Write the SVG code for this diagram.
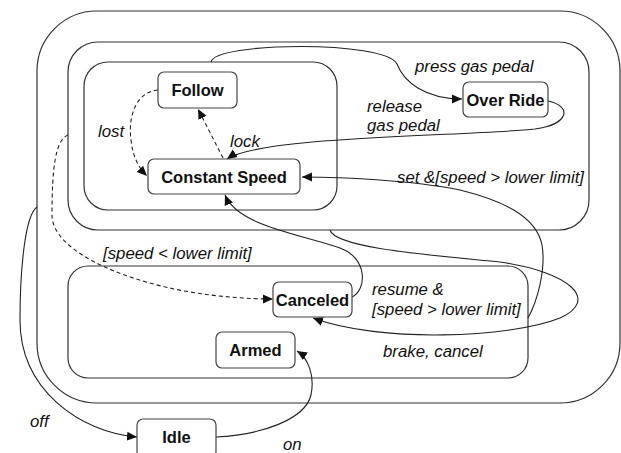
<svg xmlns="http://www.w3.org/2000/svg" width="621" height="453" viewBox="0 0 621 453">
<defs>
<marker id="ah" viewBox="0 0 10 10" refX="10" refY="5" markerWidth="10" markerHeight="10" markerUnits="userSpaceOnUse" orient="auto">
<path d="M0,0.5 L10,5 L0,9.5 z" fill="#111"/>
</marker>
<style>
.reg{fill:none;stroke:#333;stroke-width:1.2}
.st{fill:#fff;stroke:#444;stroke-width:1.2}
.nl{font-family:"Liberation Sans",Arial,sans-serif;font-weight:bold;font-size:16.5px;fill:#111;text-anchor:middle}
.lb{font-family:"Liberation Sans",Arial,sans-serif;font-style:italic;font-size:16.8px;fill:#111}
.e{fill:none;stroke:#222;stroke-width:1.1;marker-end:url(#ah)}
.d{stroke-dasharray:4,3}
</style>
</defs>
<rect width="621" height="453" fill="#fff"/>
<g id="regions">
<rect id="cruise" class="reg" x="37" y="11" width="583" height="392" rx="60"/>
<rect id="active" class="reg" x="68" y="42" width="521" height="188" rx="30"/>
<rect id="speedctl" class="reg" x="84" y="62" width="253" height="148" rx="24"/>
<rect id="inactive" class="reg" x="68" y="266" width="460" height="112" rx="20"/>
</g>
<g id="connectors">
<path class="e" d="M211,62 C214,42 385,40 397,64 C404,82 425,99 462,99"/>
<path class="e" d="M548,101 C572,106 570,124 535,129 C470,136 260,136 227,159"/>
<path class="e d" d="M223,158 L198,109"/>
<path class="e d" d="M158,90 C135,92 128,118 131,140 C133,158 139,168 147,176"/>
<path class="e d" d="M68,135 C55,140 52,170 52,215 C52,250 120,280 190,292 C220,297 250,299 273,299"/>
<path class="e" d="M528,318 C538,300 546,268 542,245 C536,215 500,200 460,190 C410,180 340,177 302,177"/>
<path class="e" d="M352,297 C367,290 368,258 340,248 C300,234 238,226 225,195"/>
<path class="e" d="M330,230 C335,248 430,255 500,262 C570,272 600,300 560,318 C510,338 380,343 313,318"/>
<path class="e" d="M37,207 C25,215 20,270 20,320 C20,390 80,432 137,437"/>
<path class="e" d="M216,437 C260,435 305,420 311,395 C315,375 308,358 297,351"/>
</g>
<g id="Follow"><rect class="st" x="158" y="72" width="79" height="36" rx="6"/><text class="nl" x="197.5" y="96">Follow</text></g>
<g id="ConstantSpeed"><rect class="st" x="148" y="159" width="152" height="35" rx="6"/><text class="nl" x="224" y="182.5">Constant Speed</text></g>
<g id="OverRide"><rect class="st" x="463" y="82" width="85" height="35" rx="6"/><text class="nl" x="505.5" y="105.5">Over Ride</text></g>
<g id="Canceled"><rect class="st" x="273" y="282" width="79" height="35" rx="6"/><text class="nl" x="312.5" y="305.5">Canceled</text></g>
<g id="Armed"><rect class="st" x="216" y="332" width="79" height="36" rx="6"/><text class="nl" x="255.5" y="356">Armed</text></g>
<g id="Idle"><rect class="st" x="137" y="419" width="79" height="38" rx="6"/><text class="nl" x="176.5" y="443">Idle</text></g>
<g id="labels">
<text class="lb" x="415" y="72">press gas pedal</text>
<text class="lb" x="367" y="112">release</text>
<text class="lb" x="367" y="131">gas pedal</text>
<text class="lb" x="397" y="183">set &amp;[speed &gt; lower limit]</text>
<text class="lb" x="98" y="137">lost</text>
<text class="lb" x="230" y="147">lock</text>
<text class="lb" x="103" y="259">[speed &lt; lower limit]</text>
<text class="lb" x="372" y="295">resume &amp;</text>
<text class="lb" x="372" y="315">[speed &gt; lower limit]</text>
<text class="lb" x="383" y="357">brake, cancel</text>
<text class="lb" x="30" y="427">off</text>
<text class="lb" x="283" y="450">on</text>
</g>
</svg>
